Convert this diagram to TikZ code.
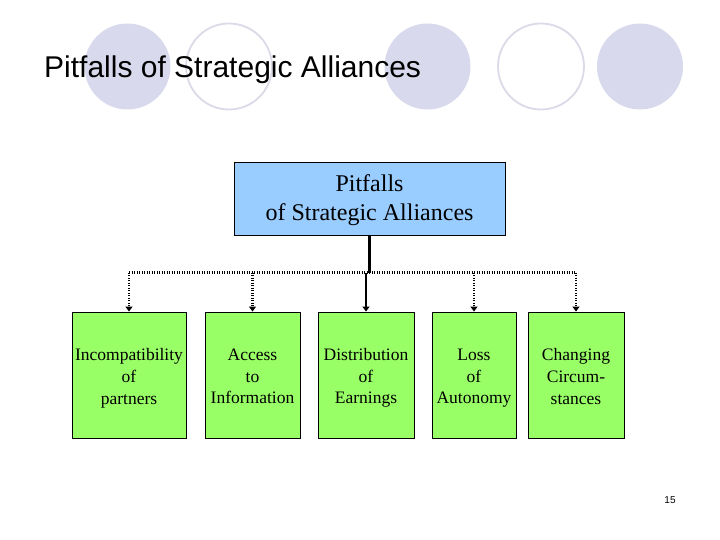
\documentclass[tikz,border=0pt]{standalone}
\usepackage{fontspec}
\setmainfont{Liberation Serif}
\setsansfont{Liberation Sans}
\usepackage{tikz}
\usetikzlibrary{arrows.meta}

\definecolor{disc}{RGB}{217,217,237}
\definecolor{ring}{RGB}{218,218,232}
\definecolor{topfill}{RGB}{153,204,255}
\definecolor{leaffill}{RGB}{153,255,102}

\newcommand{\leafstrut}{\rule[-3.45pt]{0pt}{21.5pt}}
\newcommand{\rootstrut}{\rule[-6.7pt]{0pt}{29pt}}
\newcommand{\threelines}[3]{\leafstrut#1\\\leafstrut#2\\\leafstrut#3}

\tikzset{
	topbox/.style={draw=black, fill=topfill, line width=0.9pt, inner sep=0pt, align=center,
		font=\fontsize{24}{29}\selectfont},
	leafbox/.style={draw=black, fill=leaffill, line width=0.9pt, inner sep=0pt, align=center,
		minimum height=126pt, font=\fontsize{17.5}{21.5}\selectfont},
	link/.style={line width=2.2pt, -{Triangle[width=7pt,length=5pt]}},
	dotlink/.style={link, dash pattern=on 1.4pt off 1.1pt},
}

\begin{document}
\begin{tikzpicture}[x=1pt,y=-1pt]
\useasboundingbox (0,0) rectangle (720,540);
% circles behind the title
\foreach \cx in {127.5,427.5,640}
	\fill[disc] (\cx,66.5) circle (43);
\foreach \cx in {229,541}
	\draw[ring, line width=1.8pt] (\cx,66.5) circle (43);
\node[anchor=base west, inner sep=0pt, font=\sffamily\fontsize{30}{34}\selectfont] (title) at (44,78) {Pitfalls of Strategic Alliances};

% chart
\node[topbox, minimum width=271pt, minimum height=73pt] (root) at (369.5,198.5) {\rootstrut Pitfalls\\\rootstrut of Strategic Alliances};
\node[leafbox, minimum width=114pt, text width=114pt] (inc) at (129,375) {\threelines{Incompatibility}{of}{partners}};
\node[leafbox, minimum width=95pt, text width=95pt] (acc) at (252.5,375) {\threelines{Access}{to}{Information}};
\node[leafbox, minimum width=96pt, text width=96pt] (dis) at (366,375) {\threelines{Distribution}{of}{Earnings}};
\node[leafbox, minimum width=84pt, text width=84pt] (los) at (474,375) {\threelines{Loss}{of}{Autonomy}};
\node[leafbox, minimum width=96pt, text width=96pt] (chg) at (576,375) {\threelines{Changing}{Circum-}{stances}};
\coordinate (bar) at (369.5,272.5);

\draw[line width=2.2pt] (root.south) -- (bar);
\draw[line width=2.2pt, dash pattern=on 1.4pt off 1.1pt] (inc.north |- bar) -- (chg.north |- bar);
\path
(inc.north |- bar) edge[dotlink] (inc.north)
(acc.north |- bar) edge[dotlink] (acc.north)
(dis.north |- bar) edge[link] (dis.north)
(los.north |- bar) edge[dotlink] (los.north)
(chg.north |- bar) edge[dotlink] (chg.north)
;

\node[font=\sffamily\fontsize{10}{12}\selectfont] (page) at (670,500) {15};
\end{tikzpicture}
\end{document}
